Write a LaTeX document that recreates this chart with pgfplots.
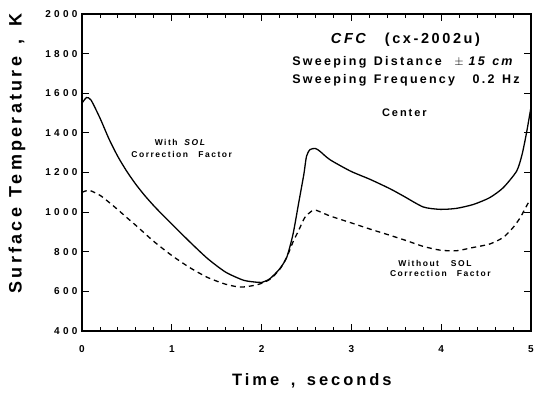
\documentclass[border=0pt]{standalone}
\usepackage{fontspec}
\setmainfont{Liberation Sans}
\newfontfamily\spfont[LetterSpace=18]{Liberation Sans}
\newfontfamily\tkfont[LetterSpace=33]{Liberation Sans}
\usepackage{pgfplots}
\pgfplotsset{compat=1.18}
\begin{document}
\begin{tikzpicture}
\begin{axis}[
  name=ax,
  scale only axis,
  width=449pt, height=317pt,
  xmin=0, xmax=5, ymin=400, ymax=2000,
  xtick={0,1,2,3,4,5},
  minor x tick num=4,
  ytick={400,600,800,1000,1200,1400,1600,1800,2000},
  tick align=inside,
  major tick length=7pt,
  minor tick length=4pt,
  axis line style={line width=1.1pt},
  every tick/.style={line width=0.9pt, black},
  xticklabel pos=lower, yticklabel pos=left,
  /pgf/number format/assume math mode=true,
  /pgf/number format/1000 sep={},
  tick label style={font=\tkfont\bfseries\fontsize{10}{11}\selectfont},
  xticklabel style={yshift=-11pt},
  yticklabel style={xshift=-1pt},
  xlabel={\spfont\bfseries Time\hspace{0.7em},\hspace{0.7em}seconds},
  ylabel={\spfont\bfseries Surface\hspace{0.6em}Temperature\hspace{0.7em},\hspace{0.7em}K},
  label style={font=\fontsize{16.5}{17}\selectfont},
  xlabel style={at={(axis description cs:0.512,-0.158)}, anchor=center},
  ylabel style={at={(axis description cs:-0.145,0.56)}, anchor=center, font=\fontsize{18}{19}\selectfont},
]
\addplot[black, line width=1.3pt, smooth, tension=0.4] coordinates {
(0.00,1550) (0.05,1578) (0.10,1566) (0.20,1475) (0.30,1370) (0.40,1280)
(0.50,1205) (0.60,1140) (0.70,1083) (0.80,1032) (0.90,985) (1.00,940)
(1.20,850) (1.40,765) (1.60,697) (1.80,656) (1.95,646)
(2.00,645) (2.09,663) (2.20,713) (2.28,772) (2.35,889) (2.41,1039)
(2.47,1190) (2.50,1282) (2.54,1316) (2.60,1321) (2.65,1307) (2.76,1265)
(2.99,1207) (3.21,1165) (3.43,1118) (3.58,1081) (3.80,1026) (3.99,1014)
(4.17,1019) (4.36,1039) (4.54,1073) (4.69,1123) (4.84,1207) (4.90,1290)
(4.95,1400) (5.00,1530)
};
\addplot[black, line width=1.3pt, smooth, tension=0.4, dash pattern=on 5pt off 4pt] coordinates {
(0.00,1100) (0.08,1110) (0.20,1085) (0.30,1050) (0.40,1012) (0.50,972)
(0.60,933) (0.80,852) (1.00,781) (1.20,720) (1.40,670) (1.60,636)
(1.75,622) (1.85,625) (1.97,636) (2.09,660) (2.20,710) (2.28,772) (2.35,850)
(2.41,905) (2.48,972) (2.56,1006) (2.61,1009) (2.76,981) (2.99,947)
(3.21,914) (3.43,883) (3.62,855) (3.80,827) (3.99,808) (4.17,805)
(4.36,822) (4.54,839) (4.69,872) (4.80,922) (4.88,972) (4.93,1014)
(4.99,1064)
};
\node[anchor=west, inner sep=0pt, font=\spfont\bfseries\fontsize{14.5}{15}\selectfont] at (axis cs:2.77,1870) {\itshape CFC\upshape\hspace{1.3em}(cx-2002u)};
\node[anchor=west, inner sep=0pt, font=\spfont\bfseries\fontsize{12.5}{13}\selectfont] at (axis cs:2.34,1758) {Sweeping\hspace{0.6em}Distance\hspace{1em}$\pm$\hspace{0.4em}\itshape 15\hspace{0.6em}cm};
\node[anchor=west, inner sep=0pt, font=\spfont\bfseries\fontsize{12.5}{13}\selectfont] at (axis cs:2.34,1667) {Sweeping\hspace{0.6em}Frequency\hspace{1.4em}0.2\hspace{0.6em}Hz};
\node[font=\spfont\bfseries\fontsize{11}{12}\selectfont] at (axis cs:3.59,1500) {Center};
\node[font=\spfont\bfseries\fontsize{8.5}{9}\selectfont] at (axis cs:1.09,1354) {With\hspace{0.8em}\itshape SOL};
\node[font=\spfont\bfseries\fontsize{8.5}{9}\selectfont] at (axis cs:1.11,1293) {Correction\hspace{1.2em}Factor};
\node[font=\spfont\bfseries\fontsize{8.5}{9}\selectfont] at (axis cs:3.93,743) {Without\hspace{1.4em}SOL};
\node[font=\spfont\bfseries\fontsize{8.5}{9}\selectfont] at (axis cs:3.99,688) {Correction\hspace{1.2em}Factor};
\end{axis}
\pgfresetboundingbox
\path ([xshift=-82pt,yshift=-61pt]ax.south west) rectangle ([xshift=3pt,yshift=14pt]ax.north east);
\end{tikzpicture}
\end{document}
